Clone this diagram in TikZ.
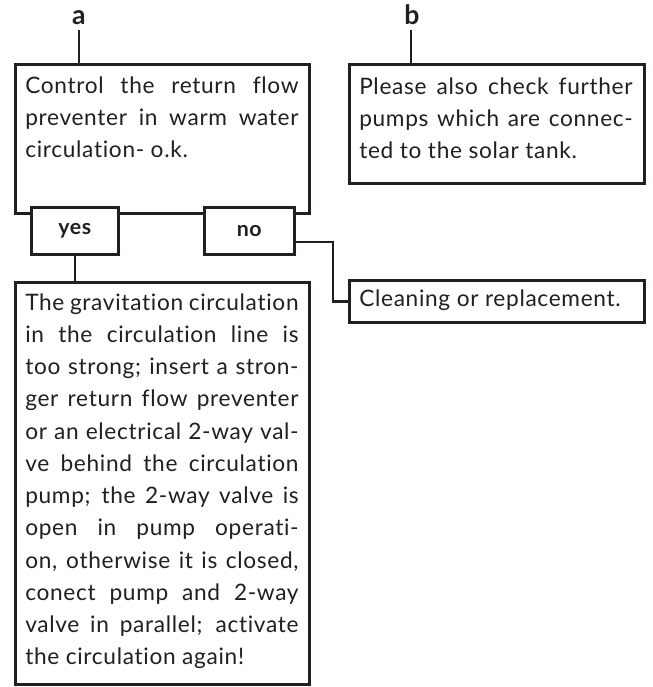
\documentclass[tikz,border=0pt]{standalone}
\usepackage{fontspec}
\setmainfont{Lato}[LetterSpace=3, Ligatures={NoCommon}]
\definecolor{inkc}{HTML}{231F20}
\begin{document}
\tolerance=10000 \hyphenpenalty=10000 \hbadness=10000 \emergencystretch=0pt
\begin{tikzpicture}[x=0.75pt,y=-0.75pt,
  ink/.style={draw=inkc, line width=1.9pt},
  box/.style={ink, fill=white, inner sep=0pt, anchor=north west},
  txt/.style={inner sep=0pt, anchor=base west, text width=205pt, align=justify,
    font=\fontsize{17}{24.2}\selectfont, text=inkc},
  tag/.style={font=\fontsize{16}{18}\selectfont\bfseries, text=inkc},
  big/.style={font=\fontsize{20}{22}\selectfont\bfseries, text=inkc}]
\useasboundingbox (0,0) rectangle (653,687);
% boxes
\node[box, minimum width=220.5pt, minimum height=111.75pt] (A) at (14,63) {};
\node[box, tag, minimum width=65.25pt, minimum height=35.25pt] (yes) at (30,206) {yes};
\node[box, tag, minimum width=67.5pt, minimum height=35.25pt] (no) at (203,206) {no};
\node[box, minimum width=220.5pt, minimum height=301.5pt] (Y) at (14,281) {};
\node[box, minimum width=221.25pt, minimum height=89.25pt] (B) at (348,63) {};
\node[box, minimum width=221.25pt, minimum height=31.5pt] (C) at (348,279) {};
% labels
\node[big, anchor=base] (la) at (79,24) {a};
\node[big, anchor=base] (lb) at (412,24) {b};
% texts
\node[txt] (At) at (25,93) {Control the return flow\linebreak preventer in warm water\linebreak circulation- o.k.};
\node[txt] (Yt) at (25,310) {The gravitation circulation\linebreak in the circulation line is\linebreak too strong; insert a stron-\linebreak ger return flow preventer\linebreak or an electrical 2-way val-\linebreak ve behind the circulation\linebreak pump; the 2-way valve is\linebreak open in pump operati-\linebreak on, otherwise it is closed,\linebreak conect pump and 2-way\linebreak valve in parallel; activate\linebreak the circulation again!};
\node[txt] (Bt) at (359,94) {Please also check further\linebreak pumps which are connec-\linebreak ted to the solar tank.};
\node[txt] (Ct) at (359,306) {Cleaning or replacement.};
% connectors
\coordinate (nj) at (333,242);
\draw[ink] (79,30) -- (79,30 |- A.north);
\draw[ink] (411,30) -- (411,30 |- B.north);
\draw[ink] (yes.south) -- (yes.south |- Y.north);
\draw[ink] (no.east |- nj) -- (nj) |- (C.west);
\end{tikzpicture}
\end{document}
